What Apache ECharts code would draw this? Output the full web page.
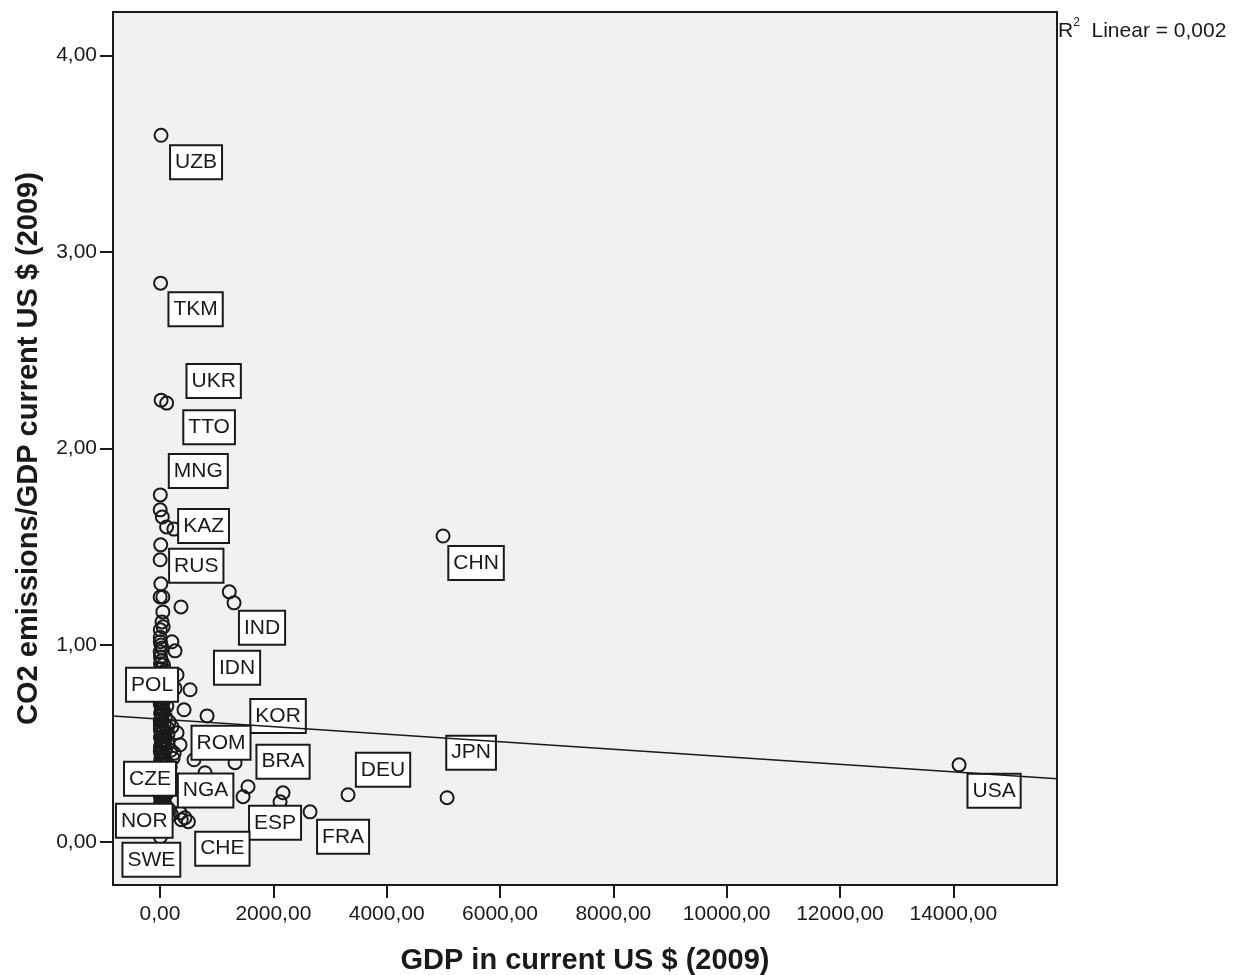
<!DOCTYPE html>
<html>
<head>
<meta charset="utf-8">
<title>CO2 emissions per GDP vs GDP (2009)</title>
<script src="https://cdn.jsdelivr.net/npm/echarts@6/dist/echarts.min.js"></script>
<style>
  html, body { margin: 0; padding: 0; background: #ffffff; }
  #chart { width: 1238px; height: 975px; }
</style>
</head>
<body>
<div id="chart"></div>
<script>
// Country codes (empty string = unlabelled point)
const countryNames = [
  'UZB','TKM','TTO','UKR','MNG','KAZ','RUS','IND','CHN','IDN','POL','KOR','ROM',
  'BRA','DEU','JPN','USA','CZE','NGA','ESP','FRA','NOR','CHE','SWE'
];

// GDP in current US $ (2009), billions
const gdpValues = [
  18, 10, 19, 117, 5, 115, 1222, 1306, 4995, 530, 424, 830, 300,
  1553, 3318, 5066, 14102, 176, 169, 1465, 2648, 375, 500, 6,
  245, 3, 40, 12, 2, 15, 2, 50, 370, 50, 35, 55, 5, 210, 5, 265, 3, 300, 265,
  2171, 2118, 1324, 600, 794, 353, 353, 440, 250, 180, 280,
  8, 25, 60, 12, 90, 30, 4, 70, 18, 45, 110, 6, 35, 80, 15, 55, 3, 120, 25, 65,
  10, 40, 95, 20, 5, 75, 30, 130, 12, 50, 22, 85, 7, 60, 35, 140, 15, 45, 100, 4,
  28, 70, 18, 55, 9, 120, 38, 2, 80, 25, 60, 12, 95, 33, 6, 150, 48, 20, 75, 10,
  40, 110, 5, 65, 25, 15, 90, 170, 200, 3, 30, 14, 50, 8, 22, 65, 11, 42, 4, 27,
  160, 210, 140, 190, 230, 120, 175, 6, 16, 9, 26, 3, 13, 7,
  4, 18, 35, 9, 52, 2, 27, 70, 14, 44, 5, 21, 88, 11, 31, 3, 60, 17, 8, 40
];

// CO2 emissions / GDP in current US $ (2009)
const co2PerGdp = [
  3.593, 2.841, 2.246, 2.231, 1.764, 1.601, 1.271, 1.215, 1.555, 0.773, 0.671, 0.640, 0.554,
  0.280, 0.239, 0.224, 0.391, 0.315, 0.260, 0.229, 0.152, 0.112, 0.102, 0.025,
  1.590, 1.688, 1.652, 1.510, 1.434, 1.312, 1.245, 1.245, 1.194, 1.169, 1.118, 1.093, 1.078, 1.017, 1.017, 0.971, 0.966, 0.849, 0.780,
  0.249, 0.203, 0.402, 0.417, 0.351, 0.493, 0.147, 0.122, 0.450, 0.380, 0.300,
  0.940, 0.920, 0.900, 0.880, 0.870, 0.850, 0.830, 0.820, 0.800, 0.790, 0.780, 0.760, 0.750, 0.730, 0.720, 0.710, 0.700, 0.690, 0.680, 0.665,
  0.655, 0.645, 0.635, 0.625, 0.615, 0.600, 0.590, 0.580, 0.570, 0.560, 0.550, 0.540, 0.530, 0.520, 0.510, 0.500, 0.490, 0.480, 0.470, 0.460,
  0.450, 0.440, 0.430, 0.420, 0.410, 0.400, 0.390, 0.380, 0.370, 0.360, 0.350, 0.340, 0.330, 0.320, 0.310, 0.300, 0.290, 0.280, 0.270, 0.260,
  0.250, 0.240, 0.230, 0.220, 0.210, 0.200, 0.190, 0.160, 0.140, 0.120, 0.505, 0.475, 0.435, 0.395, 0.355, 0.325, 0.285, 0.265, 0.245, 0.215,
  0.610, 0.585, 0.545, 0.465, 0.425, 0.365, 0.335, 0.595, 0.565, 0.485, 0.415, 0.345, 0.275, 0.180,
  1.040, 1.000, 0.985, 0.905, 0.860, 0.815, 0.770, 0.745, 0.705, 0.675, 0.575, 0.535, 0.515, 0.455, 0.405, 0.305, 0.235, 0.205, 0.170, 0.650
];

// Linear fit line end points (x, y) across the plotted range
const fitLineX = [-830, 15830];
const fitLineY = [0.640, 0.320];
const rSquaredText = '0,002';

// Axis ticks
const xTickValues = [0, 2000, 4000, 6000, 8000, 10000, 12000, 14000];
const yTickValues = [0, 1, 2, 3, 4];

// Label box placement relative to each labelled point (pixels)
const labelOffsets = {
  UZB: [35, 27], TKM: [35, 26], TTO: [48, 27], UKR: [47, -22], MNG: [38, -24],
  KAZ: [37, -1], RUS: [-33, -26], IND: [28, 25], CHN: [33, 27], IDN: [47, -22],
  POL: [-32, -25], KOR: [71, 0], ROM: [44, 10], BRA: [35, -25], DEU: [35, -25],
  JPN: [24, -45], USA: [35, 26], CZE: [-20, -1], NGA: [36, 0], ESP: [32, 26],
  FRA: [33, 25], NOR: [-37, 1], CHE: [34, 27], SWE: [-9, 23]
};

const FONT = '"Liberation Sans", Arial, Helvetica, sans-serif';
const fmt = v => v.toFixed(2).replace('.', ',');

const points = gdpValues.map((g, i) => {
  const name = countryNames[i] || '';
  const item = { value: [g, co2PerGdp[i]], name: name };
  if (name) {
    item.label = { show: true, position: 'inside', offset: labelOffsets[name] || [35, 26] };
  }
  return item;
});

const chart = echarts.init(document.getElementById('chart'), null, { renderer: 'canvas' });

chart.setOption({
  animation: false,
  backgroundColor: '#ffffff',
  grid: {
    left: 113, top: 12, right: 181, bottom: 90,
    outerBoundsMode: 'none',
    containLabel: false,
    show: true,
    backgroundColor: '#f0f1f3',
    borderColor: '#1a1a1a',
    borderWidth: 2
  },
  xAxis: {
    type: 'value',
    min: fitLineX[0],
    max: fitLineX[1],
    name: 'GDP in current US $ (2009)',
    nameLocation: 'middle',
    nameGap: 61,
    nameTextStyle: { fontFamily: FONT, fontSize: 29, fontWeight: 'bold', color: '#1a1a1a' },
    axisLine: { show: false, onZero: false },
    splitLine: { show: false },
    axisTick: {
      show: true, length: 13, inside: false, customValues: xTickValues,
      lineStyle: { color: '#1a1a1a', width: 2 }
    },
    axisLabel: {
      customValues: xTickValues, formatter: fmt, margin: 19,
      fontFamily: FONT, fontSize: 21, color: '#1a1a1a'
    }
  },
  yAxis: {
    type: 'value',
    min: -0.22,
    max: 4.22,
    name: 'CO2 emissions/GDP current US $ (2009)',
    nameLocation: 'middle',
    nameGap: 70,
    nameRotate: 90,
    nameTextStyle: { fontFamily: FONT, fontSize: 29, fontWeight: 'bold', color: '#1a1a1a' },
    axisLine: { show: false, onZero: false },
    splitLine: { show: false },
    axisTick: {
      show: true, length: 13, inside: false, customValues: yTickValues,
      lineStyle: { color: '#1a1a1a', width: 2 }
    },
    axisLabel: {
      customValues: yTickValues, formatter: fmt, margin: 16,
      fontFamily: FONT, fontSize: 21, color: '#1a1a1a'
    }
  },
  series: [
    {
      type: 'scatter',
      data: points,
      symbol: 'circle',
      symbolSize: 13,
      itemStyle: { color: 'rgba(0,0,0,0)', borderColor: '#1a1a1a', borderWidth: 2, opacity: 1 },
      label: {
        show: false,
        formatter: p => p.name,
        fontFamily: FONT,
        fontSize: 21,
        color: '#1a1a1a',
        backgroundColor: '#ffffff',
        borderColor: '#1a1a1a',
        borderWidth: 2,
        padding: [6, 4, 5, 4]
      },
      emphasis: { disabled: true },
      z: 2
    },
    {
      type: 'line',
      data: fitLineX.map((x, i) => [x, fitLineY[i]]),
      showSymbol: false,
      symbol: 'none',
      lineStyle: { color: '#1a1a1a', width: 1.5 },
      emphasis: { disabled: true },
      silent: true,
      z: 5
    }
  ],
  graphic: [
    {
      type: 'text',
      left: 1058,
      top: 17,
      style: {
        text: '{r|R}{s|2}{r|  Linear = ' + rSquaredText + '}',
        rich: {
          r: { fontFamily: FONT, fontSize: 21, fill: '#1a1a1a', verticalAlign: 'bottom', lineHeight: 25 },
          s: { fontFamily: FONT, fontSize: 12, fill: '#1a1a1a', verticalAlign: 'top', lineHeight: 25, padding: [0, 0, 10, 0] }
        }
      }
    }
  ]
});
</script>
</body>
</html>
